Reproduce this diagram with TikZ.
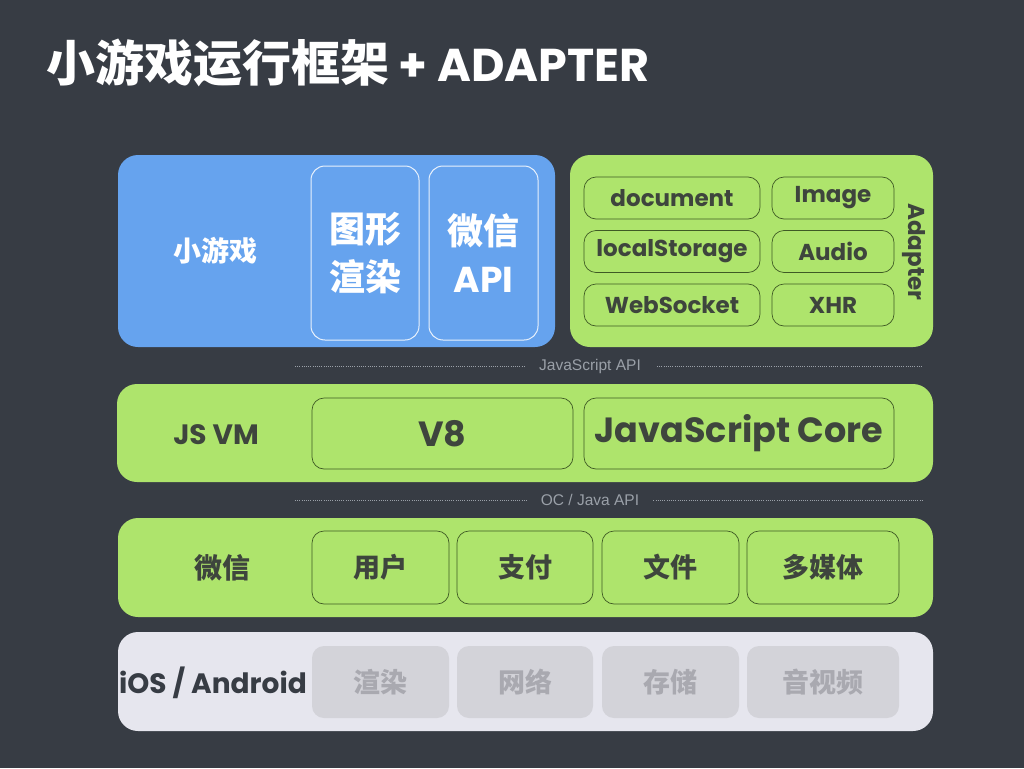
\documentclass[tikz,border=0pt]{standalone}
\usepackage{fontspec}
\setmainfont{Poppins}
\newfontfamily\cjk{Noto Sans CJK SC}
\newfontfamily\thin{Liberation Sans}
\definecolor{bg}{HTML}{373C44}
\definecolor{blueL}{HTML}{66A3EE}
\definecolor{greenL}{HTML}{AEE46C}
\definecolor{lightL}{HTML}{E6E6EE}
\definecolor{grayC}{HTML}{D3D3D9}
\definecolor{grayT}{HTML}{A9A9B0}
\definecolor{darkT}{HTML}{3E453D}
\definecolor{cellLine}{HTML}{3F5A25}
\definecolor{dotC}{HTML}{9AA0A8}
\newcommand{\fs}[1]{\fontsize{#1}{#1}\selectfont}
\begin{document}
\begin{tikzpicture}[x=1pt,y=-1pt,
  layer/.style={rectangle, rounded corners=20pt, inner sep=0pt, outer sep=0pt},
  bluecell/.style={rectangle, rounded corners=14pt, draw=white!85!blueL, line width=1pt, inner sep=0pt, outer sep=0pt, text=white, align=center, font=\cjk\bfseries\fs{36}},
  cell/.style={rectangle, rounded corners=12pt, draw=cellLine, line width=0.7pt, fill=greenL, inner sep=0pt, outer sep=0pt, text=darkT},
  graycell/.style={rectangle, rounded corners=12pt, fill=grayC, inner sep=0pt, outer sep=0pt, text=grayT, font=\cjk\bfseries\fs{27}},
  adcell/.style={cell, minimum height=42pt, font=\bfseries\fs{23}},
  lbl/.style={inner sep=0pt, text=darkT},
  dotline/.style={draw=dotC, line width=1pt, dash pattern=on 1pt off 1.2pt},
  apilbl/.style={inner sep=0pt, text=dotC, font=\thin\fs{15.5}}
]
\fill[bg] (0,0) rectangle (1024,768);
\useasboundingbox (0,0) rectangle (1024,768);

% title
\node[anchor=west, inner sep=0pt, text=white, font=\bfseries\fs{46}] (title) at (46,63) {{\cjk\fs{49}小游戏运行框架} + ADAPTER};

% top-left blue
\node[layer, fill=blueL, minimum width=437pt, minimum height=192pt] (game) at (336.5,251) {};
\node[lbl, text=white, font=\cjk\bfseries\fs{28}] (gamelbl) at (215,251) {小游戏};
\node[bluecell, minimum width=108pt, minimum height=174pt] (gfx) at (365,253) {图形\\[12pt]渲染};
\node[bluecell, minimum width=109pt, minimum height=174pt] (wxapi) at (483.5,253) {微信\\[12pt]{\rmfamily\bfseries API}};

% adapter
\node[layer, fill=greenL, minimum width=363pt, minimum height=192pt] (adapter) at (751.5,251) {};
\node[adcell, minimum width=176pt] (doc) at (672,198) {document};
\node[adcell, minimum width=122pt] (img) at (833,198) {Image};
\node[adcell, minimum width=176pt] (ls) at (672,251.5) {localStorage};
\node[adcell, minimum width=122pt] (aud) at (833,251.5) {Audio};
\node[adcell, minimum width=176pt] (ws) at (672,305) {WebSocket};
\node[adcell, minimum width=122pt] (xhr) at (833,305) {XHR};
\node[lbl, rotate=-90, font=\bfseries\fs{23}] (adlbl) at (914,252) {Adapter};

% JavaScript API line
\node[apilbl] (jsapi) at (590,366) {JavaScript API};
\coordinate (d1l) at (295,366);
\coordinate (d1r) at (922,366);
\draw[dotline] (d1l) -- ([xshift=-14pt]jsapi.west);
\draw[dotline] ([xshift=16pt]jsapi.east) -- (d1r);

% JS VM
\node[layer, fill=greenL, minimum width=816pt, minimum height=98pt] (jsvm) at (525,433) {};
\node[lbl, font=\bfseries\fs{28}] (jsvmlbl) at (216,435) {JS VM};
\node[cell, minimum width=261pt, minimum height=71pt, font=\bfseries\fs{35}] (v8) at (442.5,433.5) {V8};
\node[cell, minimum width=310pt, minimum height=71pt, font=\bfseries\fs{35}] (jsc) at (739,433.5) {JavaScript Core};

% OC / Java API line
\node[apilbl] (ocapi) at (590,500) {OC / Java API};
\coordinate (d2l) at (295,500);
\coordinate (d2r) at (922,500);
\draw[dotline] (d2l) -- ([xshift=-14pt]ocapi.west);
\draw[dotline] ([xshift=14pt]ocapi.east) -- (d2r);

% WeChat row
\node[layer, fill=greenL, minimum width=815pt, minimum height=99pt] (wx) at (525.5,567.5) {};
\node[lbl, font=\cjk\bfseries\fs{28}] (wxlbl) at (222,568) {微信};
\node[cell, minimum width=137pt, minimum height=73pt, font=\cjk\bfseries\fs{27}] (user) at (380.5,567.5) {用户};
\node[cell, minimum width=136pt, minimum height=73pt, font=\cjk\bfseries\fs{27}] (pay) at (525,567.5) {支付};
\node[cell, minimum width=137pt, minimum height=73pt, font=\cjk\bfseries\fs{27}] (file) at (670.5,567.5) {文件};
\node[cell, minimum width=152pt, minimum height=73pt, font=\cjk\bfseries\fs{27}] (media) at (823,567.5) {多媒体};

% OS row
\node[layer, fill=lightL, minimum width=815pt, minimum height=99pt] (os) at (525.5,681.5) {};
\node[lbl, text=bg, font=\bfseries\fs{28}] (oslbl) at (213,683) {iOS / Android};
\node[graycell, minimum width=137pt, minimum height=72pt] (render) at (380.5,682) {渲染};
\node[graycell, minimum width=136pt, minimum height=72pt] (net) at (525,682) {网络};
\node[graycell, minimum width=137pt, minimum height=72pt] (store) at (670.5,682) {存储};
\node[graycell, minimum width=152pt, minimum height=72pt] (av) at (823,682) {音视频};
\end{tikzpicture}
\end{document}
